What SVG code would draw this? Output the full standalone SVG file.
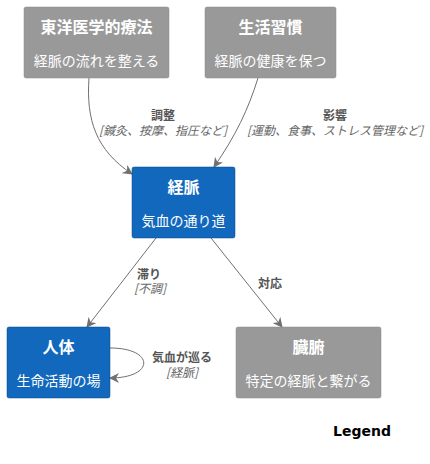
<svg xmlns="http://www.w3.org/2000/svg" width="430" height="464" viewBox="0 0 430 464">
<style>
.box-g{fill:#999999;stroke:#8a8a8a;stroke-width:0.5}
.box-b{fill:#1168BD;stroke:#0b4884;stroke-width:0.5}
.t{font-family:"Noto Sans CJK JP","Noto Sans",sans-serif;fill:#fff;text-anchor:middle}
.title{font-size:16px;font-weight:bold}
.sub{font-size:14px}
.edge{fill:none;stroke:#707070;stroke-width:1}
.lbl{font-family:"Noto Sans CJK JP","Noto Sans",sans-serif;font-size:12px;fill:#555;text-anchor:middle}
.lb{font-weight:bold}
.li{font-style:italic;fill:#666}
</style>
<defs>
<marker id="arr" viewBox="0 0 10 10" refX="9" refY="5" markerWidth="10" markerHeight="10" markerUnits="userSpaceOnUse" orient="auto">
<path d="M0,0 L10,5 L0,10 L3,5 z" fill="#707070"/>
</marker>
</defs>
<rect width="430" height="464" fill="#fff"/>
<g id="connectors">
<path class="edge" d="M89,78 C86,120 96,150 132,174" marker-end="url(#arr)"/>
<path class="edge" d="M258,78 C248,110 236,135 214,167" marker-end="url(#arr)"/>
<path class="edge" d="M156,238 L87,327" marker-end="url(#arr)"/>
<path class="edge" d="M211,238 L282,327" marker-end="url(#arr)"/>
<path class="edge" d="M110,348 C155,348 155,378 110,378" marker-end="url(#arr)"/>
<text class="lbl lb" x="163" y="120">調整</text>
<text class="lbl li" x="163" y="135">[鍼灸、按摩、指圧など]</text>
<text class="lbl lb" x="335" y="120">影響</text>
<text class="lbl li" x="335" y="135">[運動、食事、ストレス管理など]</text>
<text class="lbl lb" x="149" y="279">滞り</text>
<text class="lbl li" x="150" y="293">[不調]</text>
<text class="lbl lb" x="270" y="288">対応</text>
<text class="lbl lb" x="182" y="362">気血が巡る</text>
<text class="lbl li" x="182" y="377">[経脈]</text>
</g>
<g id="node-toyo">
<rect class="box-g" x="24" y="7" width="145" height="71" rx="2"/>
<text class="t title" x="96.5" y="33">東洋医学的療法</text>
<text class="t sub" x="96.5" y="66">経脈の流れを整える</text>
</g>
<g id="node-seikatsu">
<rect class="box-g" x="205" y="7" width="131" height="71" rx="2"/>
<text class="t title" x="270.5" y="33">生活習慣</text>
<text class="t sub" x="270.5" y="66">経脈の健康を保つ</text>
</g>
<g id="node-keimyaku">
<rect class="box-b" x="132" y="167" width="103" height="71" rx="2"/>
<text class="t title" x="183.5" y="193">経脈</text>
<text class="t sub" x="183.5" y="226">気血の通り道</text>
</g>
<g id="node-jintai">
<rect class="box-b" x="7" y="327" width="103" height="71" rx="2"/>
<text class="t title" x="58.5" y="353">人体</text>
<text class="t sub" x="58.5" y="386">生命活動の場</text>
</g>
<g id="node-zofu">
<rect class="box-g" x="236" y="327" width="145" height="71" rx="2"/>
<text class="t title" x="308.5" y="353">臓腑</text>
<text class="t sub" x="308.5" y="386">特定の経脈と繋がる</text>
</g>
<g id="legend">
<text x="333" y="436" font-family="'DejaVu Sans',sans-serif" font-size="14" font-weight="bold" fill="#000">Legend</text>
</g>
</svg>
